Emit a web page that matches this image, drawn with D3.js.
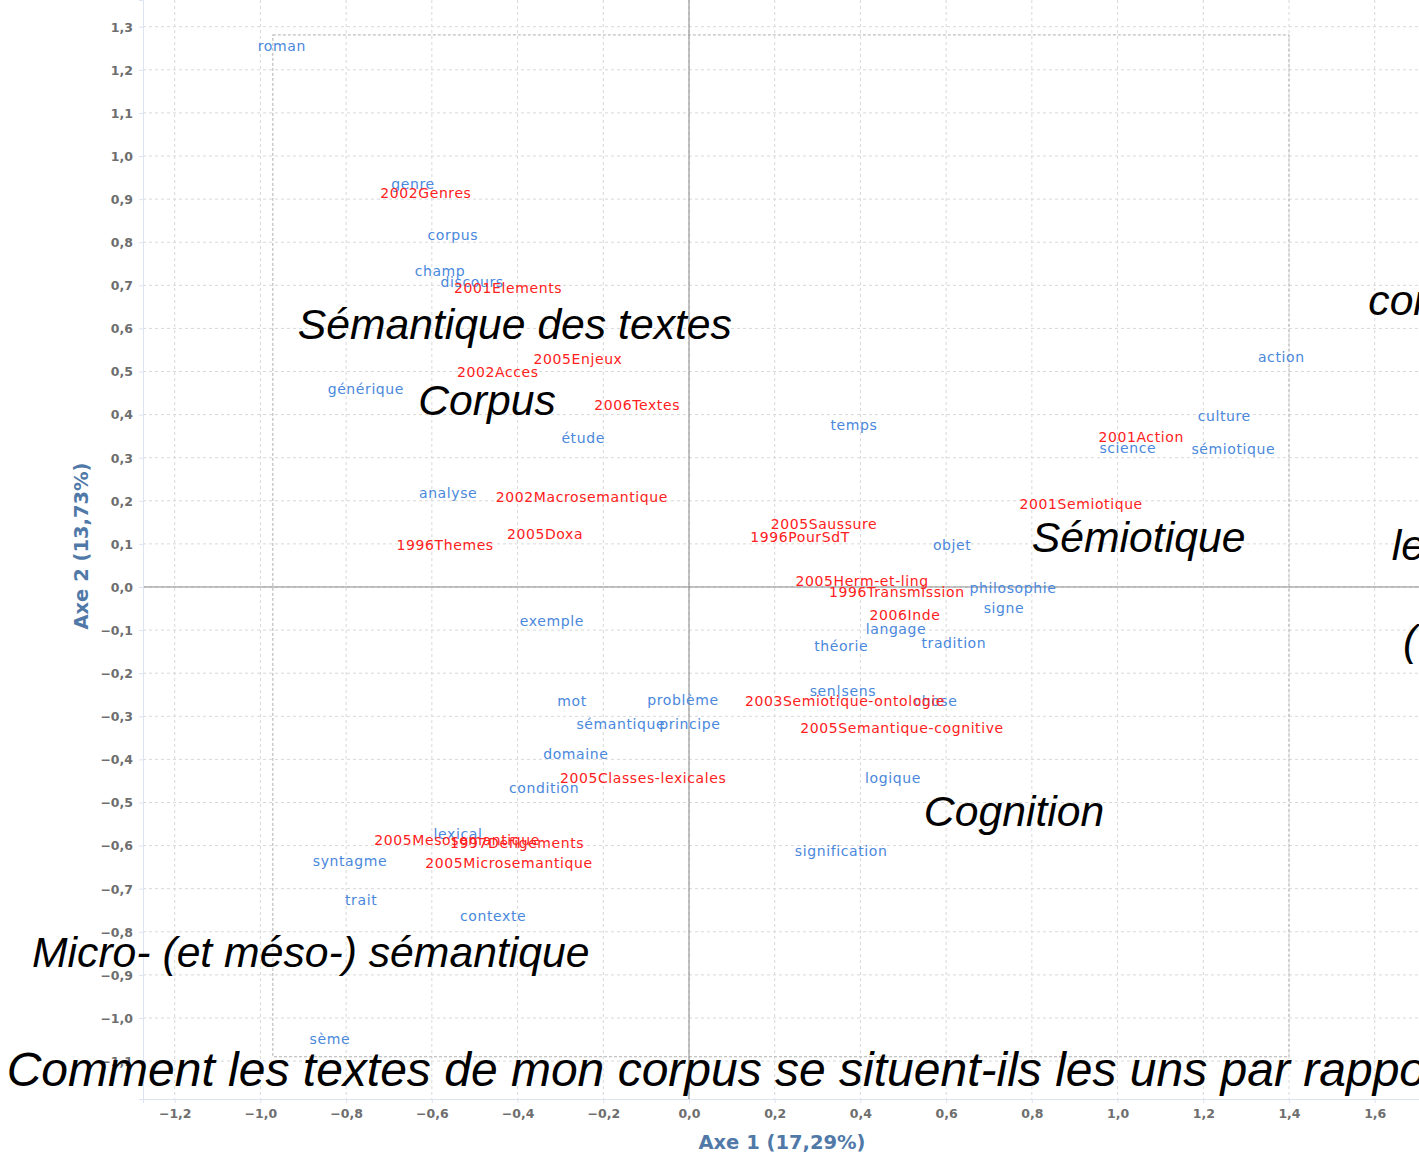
<!DOCTYPE html>
<html>
<head>
<meta charset="utf-8">
<script src="https://cdn.jsdelivr.net/npm/d3@7"></script>
<style>
  body { margin: 0; background: #fff; }
  svg { display: block; }
</style>
</head>
<body>
<div id="chart"></div>
<script>
// AFC : mots (bleu) et textes (rouge) sur les axes 1 et 2
const width = 1419;
const height = 1156;

// mots du corpus [label, axe1, axe2]
const mots = [
  ["roman", -0.950, 1.255],
  ["genre", -0.644, 0.935],
  ["corpus", -0.551, 0.817],
  ["champ", -0.581, 0.733],
  ["discours", -0.506, 0.708],
  ["générique", -0.754, 0.459],
  ["étude", -0.247, 0.346],
  ["analyse", -0.562, 0.218],
  ["temps", 0.385, 0.376],
  ["action", 1.382, 0.534],
  ["culture", 1.249, 0.397],
  ["science", 1.024, 0.323],
  ["sémiotique", 1.270, 0.320],
  ["objet", 0.614, 0.097],
  ["philosophie", 0.756, -0.002],
  ["signe", 0.735, -0.049],
  ["langage", 0.483, -0.097],
  ["théorie", 0.355, -0.137],
  ["tradition", 0.618, -0.130],
  ["exemple", -0.320, -0.079],
  ["mot", -0.273, -0.265],
  ["problème", -0.014, -0.262],
  ["sémantique", -0.159, -0.318],
  ["principe", 0.002, -0.318],
  ["sen|sens", 0.359, -0.241],
  ["chose", 0.575, -0.265],
  ["domaine", -0.264, -0.387],
  ["condition", -0.338, -0.466],
  ["logique", 0.476, -0.443],
  ["signification", 0.355, -0.613],
  ["lexical", -0.539, -0.573],
  ["syntagme", -0.791, -0.636],
  ["trait", -0.765, -0.726],
  ["contexte", -0.457, -0.763],
  ["sème", -0.838, -1.049]
];

// textes [label, axe1, axe2]
const textes = [
  ["2002Genres", -0.614, 0.914],
  ["2001Elements", -0.422, 0.694],
  ["2005Enjeux", -0.259, 0.529],
  ["2002Acces", -0.446, 0.499],
  ["2006Textes", -0.121, 0.422],
  ["2002Macrosemantique", -0.250, 0.209],
  ["2005Doxa", -0.336, 0.123],
  ["1996Themes", -0.569, 0.097],
  ["2001Action", 1.055, 0.348],
  ["2001Semiotique", 0.915, 0.193],
  ["2005Saussure", 0.315, 0.146],
  ["1996PourSdT", 0.259, 0.116],
  ["2005Herm-et-ling", 0.404, 0.014],
  ["1996Transmission", 0.485, -0.012],
  ["2006Inde", 0.504, -0.065],
  ["2003Semiotique-ontologie", 0.364, -0.265],
  ["2005Semantique-cognitive", 0.497, -0.327],
  ["2005Classes-lexicales", -0.107, -0.443],
  ["2005Mesosemantique", -0.541, -0.587],
  ["1997Defigements", -0.401, -0.594],
  ["2005Microsemantique", -0.420, -0.640]
];

// zones commentées [texte, axe1, axe2] (début de ligne)
const zones = [
  ["Sémantique des textes", -0.913, 0.575],
  ["Corpus", -0.632, 0.400],
  ["Sémiotique", 0.800, 0.081],
  ["Cognition", 0.548, -0.554],
  ["Micro- (et méso-) sémantique", -1.533, -0.882],
  ["corpus", 1.585, 0.631],
  ["les", 1.640, 0.063],
  ["(", 1.666, -0.158]
];
const question = ["Comment les textes de mon corpus se situent-ils les uns par rapport aux autres ?", -1.592, -1.157];

const xTicks = d3.range(-12, 17, 2).map(d => d / 10);
const yTicks = d3.range(-11, 14, 1).map(d => d / 10);
const cadre = [-0.971, 1.400, -1.090, 1.281];
const titreX = "Axe 1 (17,29%)";
const titreY = "Axe 2 (13,73%)";

const margin = {left: 143, top: 0, right: -2, bottom: 57};

const svg = d3.select("#chart")
  .append("svg")
  .attr("width", width)
  .attr("height", height);

const x = d3.scaleLinear()
  .domain([-1.274, 1.708])
  .range([margin.left, width - margin.right]);

const y = d3.scaleLinear()
  .domain([-1.188, 1.362])
  .range([height - margin.bottom, margin.top]);

const fmt = d => d3.format(".1f")(d).replace(".", ",");

// grille
svg.append("g")
  .selectAll("line")
  .data(xTicks)
  .join("line")
  .attr("x1", d => x(d)).attr("x2", d => x(d))
  .attr("y1", y.range()[1]).attr("y2", y.range()[0])
  .attr("stroke", "#d8d8d8")
  .attr("stroke-dasharray", "3,3");

svg.append("g")
  .selectAll("line")
  .data(yTicks)
  .join("line")
  .attr("x1", x.range()[0]).attr("x2", x.range()[1])
  .attr("y1", d => y(d)).attr("y2", d => y(d))
  .attr("stroke", "#d8d8d8")
  .attr("stroke-dasharray", "3,3");

// cadre pointillé
svg.append("rect")
  .attr("x", x(cadre[0]))
  .attr("y", y(cadre[3]))
  .attr("width", x(cadre[1]) - x(cadre[0]))
  .attr("height", y(cadre[2]) - y(cadre[3]))
  .attr("fill", "none")
  .attr("stroke", "#b0b0b0")
  .attr("stroke-dasharray", "3,2");

// axes zéro
svg.append("line")
  .attr("x1", x(0)).attr("x2", x(0))
  .attr("y1", y.range()[1]).attr("y2", y.range()[0])
  .attr("stroke", "#888");
svg.append("line")
  .attr("x1", x.range()[0]).attr("x2", x.range()[1])
  .attr("y1", y(0)).attr("y2", y(0))
  .attr("stroke", "#888");

// axes
const xAxis = svg.append("g")
  .attr("transform", `translate(0,${y.range()[0]})`)
  .call(d3.axisBottom(x).tickValues(xTicks).tickFormat(fmt).tickSizeOuter(0).tickSize(4).tickPadding(6));
const yAxis = svg.append("g")
  .attr("transform", `translate(${x.range()[0]},0)`)
  .call(d3.axisLeft(y).tickValues(yTicks).tickFormat(fmt).tickSizeOuter(0).tickSize(4).tickPadding(6));

[xAxis, yAxis].forEach(g => {
  g.select(".domain").attr("stroke", "#dbe4f0");
  g.selectAll(".tick line").attr("stroke", "#dbe4f0");
  g.selectAll(".tick text")
    .attr("fill", "#6e6e6e")
    .style("font-family", "DejaVu Sans")
    .style("font-weight", "bold")
    .style("font-size", "12.5px");
});
yAxis.selectAll(".tick text").attr("dy", "0.35em");

svg.append("text")
  .attr("x", (x.range()[0] + x.range()[1]) / 2)
  .attr("y", 1149)
  .attr("text-anchor", "middle")
  .style("font-family", "DejaVu Sans")
  .style("font-weight", "bold")
  .style("font-size", "19.5px")
  .attr("fill", "#5079a8")
  .text(titreX);

svg.append("text")
  .attr("transform", "translate(88,546) rotate(-90)")
  .attr("text-anchor", "middle")
  .style("font-family", "DejaVu Sans")
  .style("font-weight", "bold")
  .style("font-size", "19.5px")
  .attr("fill", "#5079a8")
  .text(titreY);

// étiquettes
function labels(data, color) {
  svg.append("g")
    .selectAll("text")
    .data(data)
    .join("text")
    .attr("x", d => x(d[1]))
    .attr("y", d => y(d[2]))
    .attr("text-anchor", "middle")
    .attr("dominant-baseline", "central")
    .style("font-family", "DejaVu Sans")
    .style("font-size", "14px")
    .style("letter-spacing", "0.6px")
    .attr("fill", color)
    .text(d => d[0]);
}
labels(mots, "#4a88dc");
labels(textes, "#ff2020");

// commentaires
svg.append("g")
  .selectAll("text")
  .data(zones)
  .join("text")
  .attr("x", d => x(d[1]))
  .attr("y", d => y(d[2]))
  .style("font-family", "Liberation Sans")
  .style("font-style", "italic")
  .style("font-size", "42.7px")
  .attr("fill", "#000")
  .text(d => d[0]);

svg.append("text")
  .attr("x", x(question[1]))
  .attr("y", y(question[2]))
  .style("font-family", "Liberation Sans")
  .style("font-style", "italic")
  .style("font-size", "48px")
  .attr("fill", "#000")
  .text(question[0]);
</script>
</body>
</html>
